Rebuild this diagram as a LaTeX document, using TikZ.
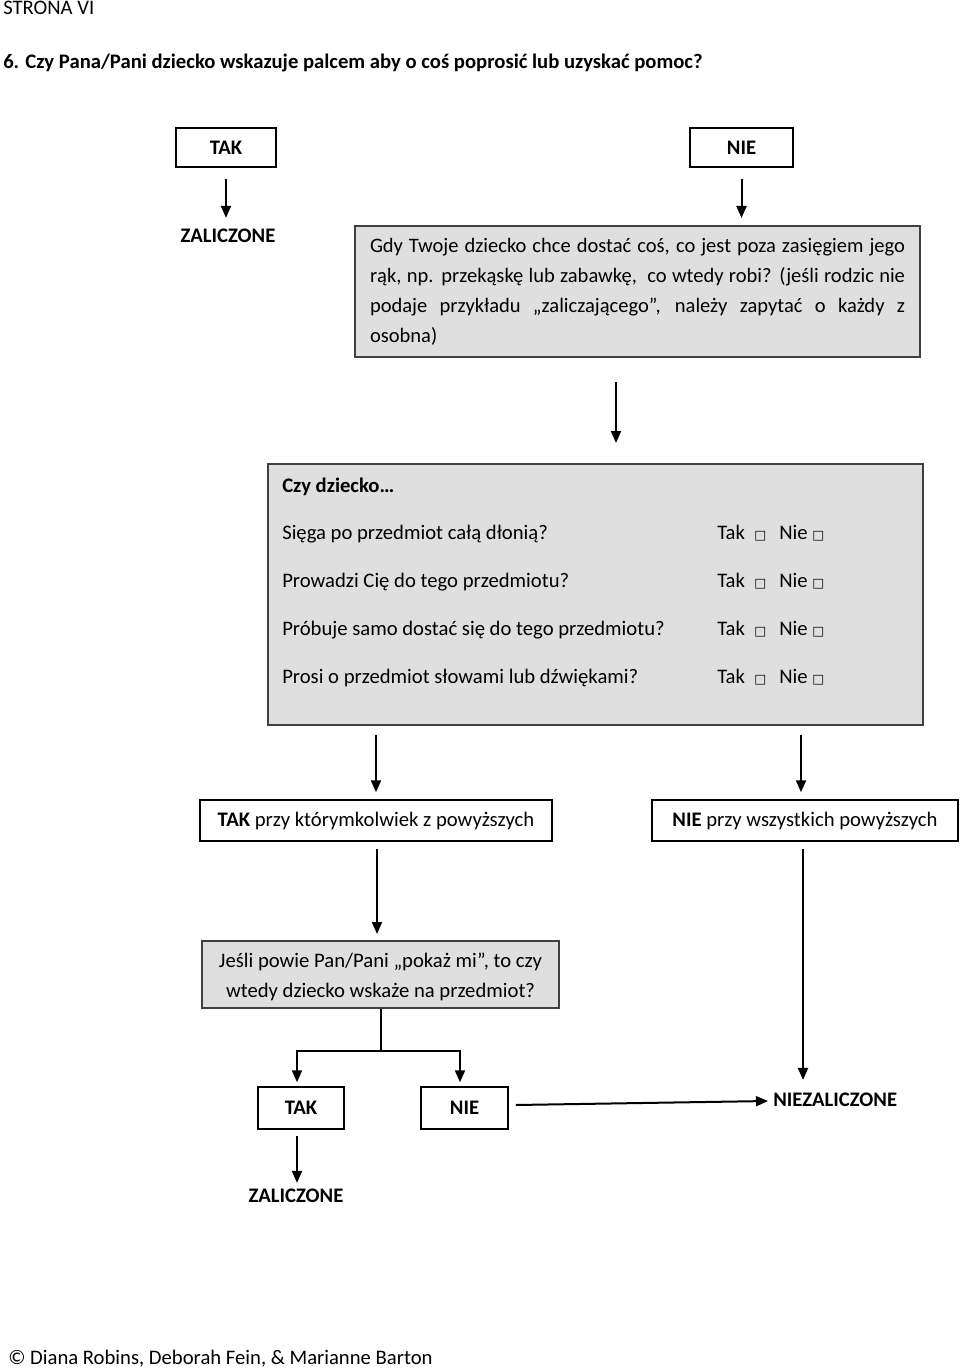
\documentclass[tikz,border=0pt]{standalone}
\usepackage{fontspec}
\setmainfont{Carlito}
\newfontfamily\djv{DejaVu Sans}
\usetikzlibrary{arrows.meta,calc}
\newcommand{\bodyfont}{\fontsize{15.5}{22.5}\selectfont}
\newcommand{\sqbox}{{\djv\fontsize{9.5}{9.5}\selectfont □}}
\tikzset{
  wbox/.style={draw=black, line width=1.125pt, inner sep=0pt, font=\bodyfont},
  gbox/.style={draw=black!75, fill=gray!25, line width=1.5pt, inner sep=0pt},
  txt/.style={inner sep=0pt, font=\bodyfont},
  conn/.style={line width=1.5pt},
  arr/.style={-{Triangle[width=7.5pt,length=9pt]}, line width=1.5pt}
}
\begin{document}
\begin{tikzpicture}[x=0.75pt,y=-0.75pt]
\useasboundingbox (0,0) rectangle (960,1369);
% header
\node[txt, anchor=base west] (strona) at (3,15) {STRONA VI};
\node[txt, anchor=base west, font=\bodyfont\bfseries] (title) at (3,69) {6. Czy Pana/Pani dziecko wskazuje palcem aby o coś poprosić lub uzyskać pomoc?};
% top row
\node[wbox, font=\bodyfont\bfseries, minimum width=75pt, minimum height=29.25pt] (tak1) at (226,147.5) {TAK};
\node[wbox, font=\bodyfont\bfseries, minimum width=77.25pt, minimum height=29.25pt] (nie1) at (741.5,147.5) {NIE};
\node[txt, font=\bodyfont\bfseries] (zal1) at (228,236) {ZALICZONE};
\node[gbox, anchor=north west, minimum width=423.75pt, minimum height=98.25pt, text width=401.25pt, inner xsep=11.25pt, align=justify, font=\fontsize{15.4}{22.5}\selectfont] (box1) at (354,225)
 {Gdy Twoje dziecko chce dostać coś, co jest poza zasięgiem jego\linebreak
  rąk, np. przekąskę lub zabawkę,~ co wtedy robi? (jeśli rodzic nie\linebreak
  podaje przykładu „zaliczającego”, należy zapytać o każdy z\linebreak
  osobna)};
% questions box
\node[gbox, anchor=north west, minimum width=491.25pt, minimum height=195.75pt] (box2) at (267,463) {};
\node[txt, anchor=base west, font=\bodyfont\bfseries] (czy) at (282,492) {Czy dziecko…};
\foreach \yy/\q [count=\i] in {539/{Sięga po przedmiot całą dłonią?},587/{Prowadzi Cię do tego przedmiotu?},635/{Próbuje samo dostać się do tego przedmiotu?},683/{Prosi o przedmiot słowami lub dźwiękami?}}{
  \node[txt, anchor=base west] (q\i) at (282,\yy) {\q};
  \node[txt, anchor=base west] (rtak\i) at (717,\yy) {Tak};
  \node[txt, anchor=base west] (rsqa\i) at (754,\yy) {\sqbox};
  \node[txt, anchor=base west] (rnie\i) at (779,\yy) {Nie};
  \node[txt, anchor=base west] (rsqb\i) at (812,\yy) {\sqbox};
}
% result boxes
\node[wbox, minimum width=264pt, minimum height=30.75pt] (takany) at (376,820.5) {\textbf{TAK} przy którymkolwiek z powyższych};
\node[wbox, minimum width=229.5pt, minimum height=30.75pt] (nieall) at (805,820.5) {\textbf{NIE} przy wszystkich powyższych};
\node[gbox, minimum width=267.75pt, minimum height=50.25pt] (box3) at (380.5,974.5) {};
\node[txt, align=center] (box3t) at (380.5,977) {Jeśli powie Pan/Pani „pokaż mi”, to czy\\wtedy dziecko wskaże na przedmiot?};
\node[wbox, font=\bodyfont\bfseries, minimum width=64.5pt, minimum height=31.5pt] (tak2) at (301,1108) {TAK};
\node[wbox, font=\bodyfont\bfseries, minimum width=65.25pt, minimum height=31.5pt] (nie2) at (464.5,1108) {NIE};
\node[txt, font=\bodyfont\bfseries, anchor=west] (niezal) at (773,1100) {NIEZALICZONE};
\node[txt, font=\bodyfont\bfseries] (zal2) at (296,1196) {ZALICZONE};
% footer
\node[txt, anchor=base west] (footer) at (8,1364) {© Diana Robins, Deborah Fein, \& Marianne Barton};
% helper coordinates
\coordinate (c616) at (616,0);
\coordinate (c801) at (801,0);
\coordinate (c803) at (803,0);
\coordinate (c377) at (377,0);
\coordinate (jl) at (297,1051);
\coordinate (jr) at (460,1051);
% connectors
\draw[arr, shorten <=8.25pt, shorten >=8.25pt] (tak1.south) -- (tak1.south |- zal1.north);
\draw[arr, shorten <=8.25pt, shorten >=5.25pt] (nie1.south) -- (nie1.south |- box1.north);
\draw[arr, shorten <=18pt, shorten >=15pt] (box1.south -| c616) -- (box2.north -| c616);
\draw[arr, shorten <=6.75pt, shorten >=5.25pt] (box2.south -| takany.south) -- (takany.north);
\draw[arr, shorten <=6.75pt, shorten >=5.25pt] (box2.south -| c801) -- (nieall.north -| c801);
\draw[arr, shorten <=5.25pt, shorten >=4.5pt] (takany.south -| c377) -- (box3.north -| c377);
\draw[arr, shorten <=5.25pt, shorten >=9.75pt] (nieall.south -| c803) -- (niezal.north -| c803);
\draw[conn] (box3.south) -- (box3.south |- jl);
\draw[arr, shorten >=3pt] (box3.south |- jl) -| (jl |- tak2.north);
\draw[arr, shorten >=3pt] (box3.south |- jr) -| (jr |- nie2.north);
\draw[arr] ($(nie2.east)+(7,-3)$) -- ($(niezal.west)+(-5,1)$);
\draw[arr, shorten <=4.5pt, shorten >=4.5pt] (tak2.south -| jl) -- (zal2.north -| jl);
\end{tikzpicture}
\end{document}
